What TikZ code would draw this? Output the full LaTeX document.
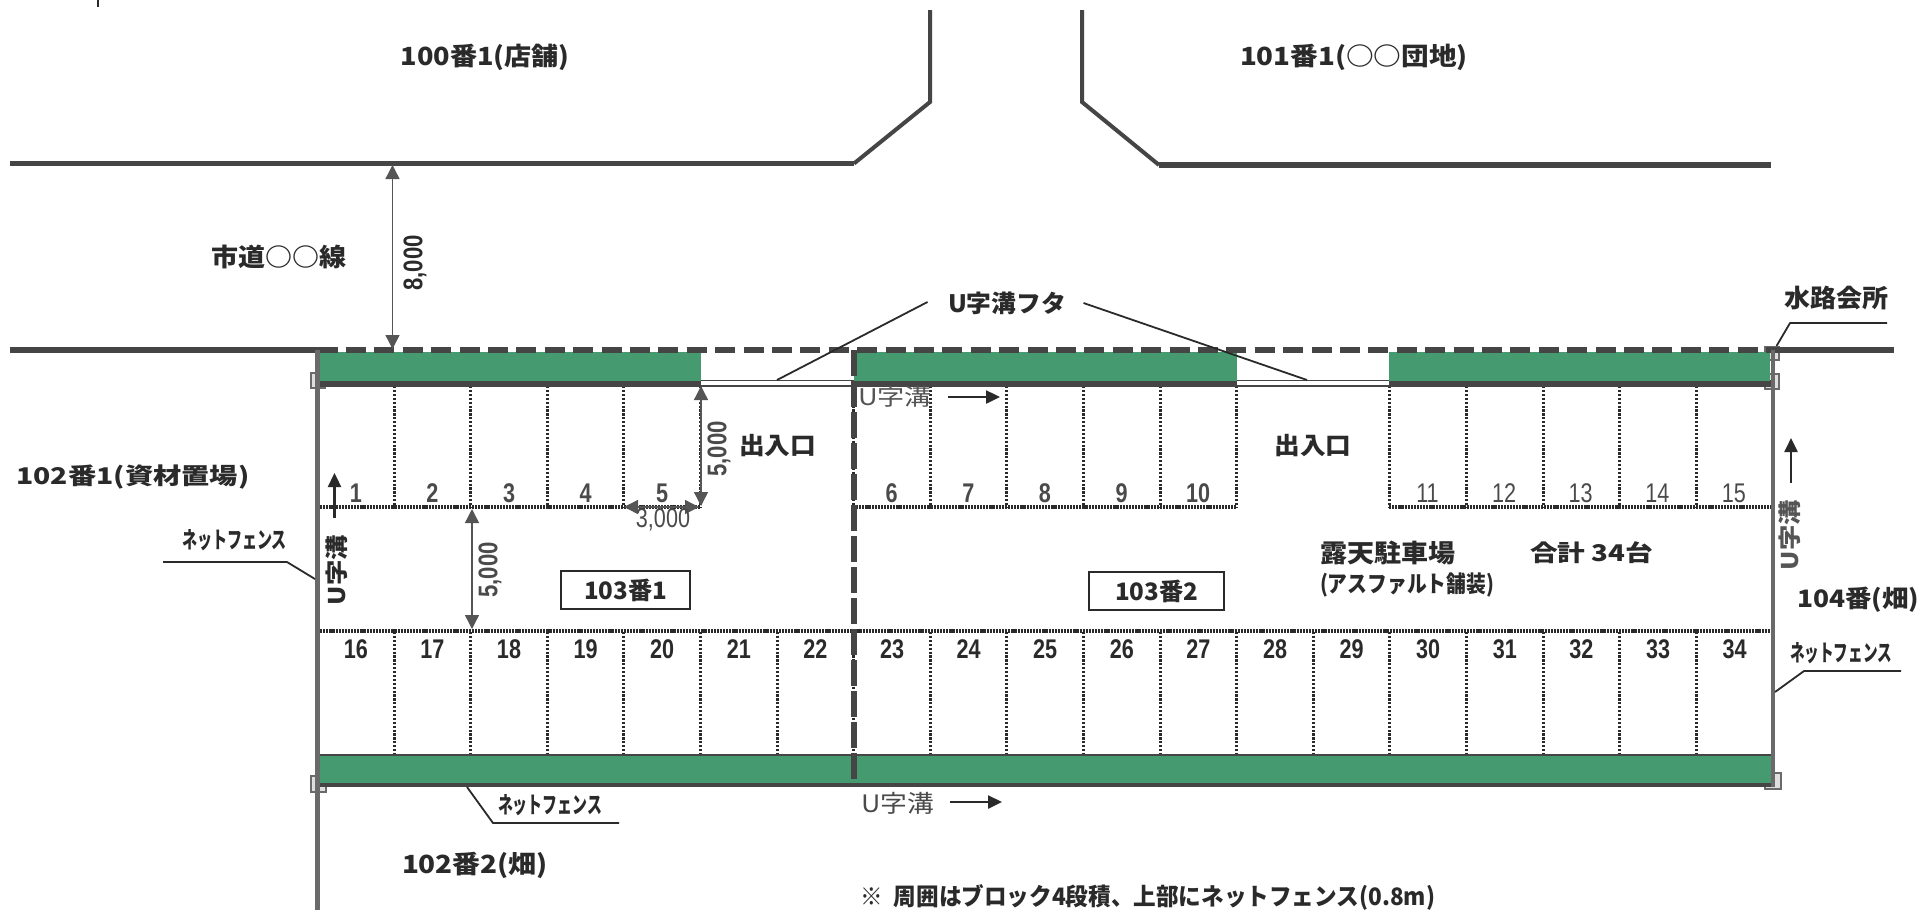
\documentclass[tikz,border=0pt]{standalone}
\usepackage{graphicx}
\usepackage{fontspec}
\usetikzlibrary{arrows.meta}
\setmainfont{Liberation Sans}
\newfontfamily\jp{Noto Sans CJK JP}
\newfontfamily\lat{Liberation Sans}
\newcommand{\JT}[3]{{\fontsize{#1pt}{#1pt}\selectfont\resizebox{\dimexpr#2pt/2\relax}{\height}{#3}}}
\definecolor{grn}{HTML}{459B6F}
\definecolor{ink}{HTML}{2A2A2A}
\definecolor{wallc}{HTML}{454545}
\tikzset{
  lbl/.style={inner sep=0pt,outer sep=0pt,text=ink,font=\jp},
  blbl/.style={inner sep=0pt,outer sep=0pt,text=ink,font=\jp\bfseries},
  num/.style={inner sep=0pt,outer sep=0pt,text=ink!85,font=\lat\fontsize{13.5pt}{14pt}\selectfont},
  bnum/.style={inner sep=0pt,outer sep=0pt,text=ink,font=\lat\bfseries\fontsize{13.5pt}{14pt}\selectfont},
  road/.style={draw=wallc,line width=2.7pt,line join=miter},
  roadv/.style={draw=wallc,line width=2pt,line join=miter},
  leader/.style={draw=ink,line width=0.9pt,line join=round},
  dims/.style={draw=ink!80,line width=0.7pt,{Triangle[width=7pt,length=7pt]}-{Triangle[width=7pt,length=7pt]}},
  flow/.style={draw=ink,line width=1.2pt,-{Triangle[width=6.5pt,length=7pt]}},
  stallv/.style={draw=ink,line width=1.5pt,dash pattern=on 1.1pt off 0.85pt},
  stallh/.style={draw=ink,line width=1.6pt,dash pattern=on 1.1pt off 0.45pt},
  band/.style={fill=grn,draw=none},
  joint/.style={draw=ink!70,line width=0.6pt,fill=ink!15},
}
\begin{document}
\begin{tikzpicture}[x=0.5pt,y=-0.5pt]
\useasboundingbox[fill=white] (0,0) rectangle (1920,911);

% roads at the top
\draw[leader] (98,0) -- (98,7);
\coordinate (la) at (10,163.5); \coordinate (lb) at (854,163.5);
\coordinate (lc) at (930,102); \coordinate (ld) at (930,10);
\coordinate (ra) at (1082,10); \coordinate (rb) at (1082,102);
\coordinate (rc) at (1159,165); \coordinate (rd) at (1771,165);
\draw[road] (la) -- (lb);
\draw[roadv] (lb) -- (lc) -- (ld);
\draw[roadv] (ra) -- (rb) -- (rc);
\draw[road] (rc) -- (rd);

% stall lines
\foreach \i in {1,...,5} \draw[stallv] ({317.5+76.6*\i},386) -- ({317.5+76.6*\i},507);
\foreach \i in {7,...,12} \draw[stallv] ({317.5+76.6*\i},386) -- ({317.5+76.6*\i},507);
\foreach \i in {14,...,18} \draw[stallv] ({317.5+76.6*\i},386) -- ({317.5+76.6*\i},507);
\foreach \i in {1,...,18} \draw[stallv] ({317.5+76.6*\i},632) -- ({317.5+76.6*\i},755);
\draw[stallh] (320,507) -- (701,507);
\draw[stallh] (856,507) -- (1237,507);
\draw[stallh] (1389,507) -- (1771,507);
\draw[stallh] (320,631) -- (1771,631);

% joints
\draw[joint] (311,373) rectangle (325,388);
\draw[joint] (311,776) rectangle (326,792);
\draw[joint] (1765,347) rectangle (1779,360);
\draw[joint] (1765,374) rectangle (1779,389);
\draw[joint] (1765,773) rectangle (1781,789);

% edge lines
\coordinate (tl) at (317.5,350); \coordinate (tr) at (1773,350);
\draw[draw=wallc,line width=0.9pt] (318,380.5) -- (1773,380.5);
\draw[draw=wallc,line width=0.9pt] (318,386) -- (1773,386);
\draw[draw=wallc,line width=2.4pt] (320,383.5) -- (701,383.5);
\draw[draw=wallc,line width=2.4pt] (854,383.5) -- (1237,383.5);
\draw[draw=wallc,line width=2.4pt] (1389,383.5) -- (1773,383.5);
% green strips
\fill[band] (320,352) rectangle (701,381);
\fill[band] (854,352) rectangle (1237,381);
\fill[band] (1389,352) rectangle (1770,381);
\fill[band] (320,755) rectangle (1771,783);
\draw[road] (10,350) -- (tl);
\draw[road] (tr) -- (1894,350);
\draw[draw=wallc,line width=2.6pt,dash pattern=on 10pt off 4.2pt] (tl) -- (tr);
\draw[draw=wallc,line width=1.3pt] (320,755) -- (1773,755);
\draw[draw=wallc,line width=2.4pt] (318,785) -- (1773,785);
\draw[draw=ink!70,line width=2.8pt] (317.5,350) -- (317.5,910);
\draw[draw=ink!70,line width=2pt] (1773,350) -- (1773,787);
\draw[draw=wallc,line width=2.6pt,dash pattern=on 13pt off 2.5pt] (854,350) -- (854,787);

% dimensions
\draw[dims] (392.5,165) -- (392.5,349);
\draw[dims] (701,386) -- (701,506);
\draw[dims] (624,507) -- (699,507);
\draw[dims] (472,509) -- (472,629);
\node[bnum,rotate=90] (d8) at (415,263) {\scalebox{0.82}[1]{8,000}};
\node[bnum,rotate=90,text=ink!85] (d5a) at (719,449) {\scalebox{0.82}[1]{5,000}};
\node[bnum,rotate=90,text=ink!85] (d5b) at (490,570) {\scalebox{0.82}[1]{5,000}};
\node[num] (d3) at (663,520) {\scalebox{0.8}[1]{3,000}};

% flow arrows
\draw[flow] (334.5,518) -- (334.5,473);
\draw[flow] (1791,483) -- (1791,438);
\draw[flow] (948,397) -- (1000,397);
\draw[flow] (950,802) -- (1002,802);

% stall numbers
\foreach \n [count=\k from 0] in {1,2,3,4,5}
  \node[bnum,text=ink!85] at ({355.8+76.6*\k},493) {\scalebox{0.8}[1]{\n}};
\foreach \n [count=\k from 0] in {6,7,8,9,10}
  \node[bnum,text=ink!85] at ({891.7+76.6*\k},493) {\scalebox{0.8}[1]{\n}};
\foreach \n [count=\k from 0] in {11,12,13,14,15}
  \node[num] at ({1427.5+76.6*\k},493) {\scalebox{0.8}[1]{\n}};
\foreach \n [count=\k from 0] in {16,...,34}
  \node[bnum] at ({355.8+76.6*\k},649) {\scalebox{0.8}[1]{\n}};

% lot boxes
\node[blbl,draw=ink,line width=0.8pt,minimum width=64.5pt,minimum height=19pt] (lotA) at (625.5,590) {\JT{12}{83}{103番1}};
\node[blbl,draw=ink,line width=0.8pt,minimum width=67.5pt,minimum height=19pt] (lotB) at (1156.5,591) {\JT{12}{83}{103番2}};

% labels
\node[blbl] (t100) at (485,57) {\JT{12.5}{169}{100番1(店舗)}};
\node[blbl] (t101) at (1354,57) {\JT{12.5}{228}{101番1(○○団地)}};
\node[blbl] (road) at (279,257) {\JT{12.5}{135}{市道○○線}};
\node[blbl] (t102a) at (133,477) {\JT{11.5}{233}{102番1(資材置場)}};
\node[blbl] (t102b) at (475,865) {\JT{12.5}{146}{102番2(畑)}};
\node[blbl] (t104) at (1858,600) {\JT{12}{122}{104番(畑)}};
\node[blbl] (cover) at (1007,303) {\JT{12}{118}{U字溝フタ}};
\node[blbl] (kaisho) at (1836,298) {\JT{12.5}{104}{水路会所}};
\node[blbl] (gate1) at (777.5,446) {\JT{12}{77}{出入口}};
\node[blbl] (gate2) at (1313,446) {\JT{12}{77}{出入口}};
\node[lbl,text=ink!80] (gutt) at (895,397) {\JT{11.5}{74}{U字溝}};
\node[lbl,text=ink!85] (gutb) at (897.5,803) {\JT{12}{73}{U字溝}};
\node[blbl,rotate=90] (gutl) at (337,570) {\JT{11.5}{70}{U字溝}};
\node[blbl,rotate=90,text=ink!80] (gutr) at (1790,535) {\JT{11.5}{70}{U字溝}};
\node[blbl] (park) at (1387.5,553) {\JT{12.5}{135}{露天駐車場}};
\node[blbl] (asph) at (1407,585) {\JT{11.5}{174}{(アスファルト舗装)}};
\node[blbl] (sum) at (1591.5,553) {\JT{11.5}{123}{合計\ 34台}};
\node[blbl] (netl) at (234.5,540) {\JT{11.5}{105}{ネットフェンス}};
\node[blbl] (netb) at (550,805) {\JT{11.5}{104}{ネットフェンス}};
\node[blbl] (netr) at (1841,653) {\JT{11.5}{102}{ネットフェンス}};
\node[blbl] (note) at (1148,897) {\JT{12}{574}{※\ \ 周囲はブロック4段積、上部にネットフェンス(0.8m)}};

% leaders
\coordinate (ca) at (927.5,302); \coordinate (cb) at (777,380);
\coordinate (cc) at (1083.5,303); \coordinate (cd) at (1307,380);
\draw[leader] (ca) -- (cb);
\draw[leader] (cc) -- (cd);
\draw[leader] (1887,323) -- (1790,323) -- (1776.5,346);
\draw[leader] (163,562) -- (287,562) -- (315,579);
\draw[leader] (467,787) -- (493,823) -- (619,823);
\draw[leader] (1901,671) -- (1804,671) -- (1775,692);
\end{tikzpicture}
\end{document}
